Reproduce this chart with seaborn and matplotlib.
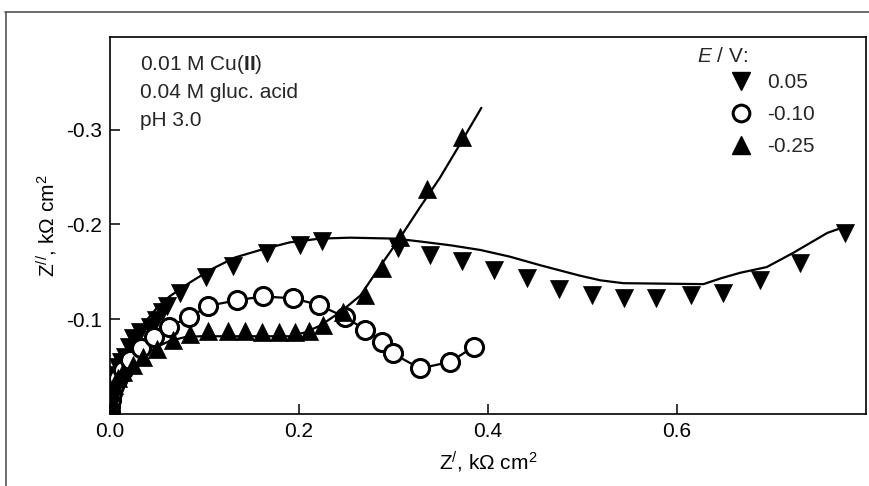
import matplotlib
matplotlib.use("Agg")
import matplotlib.pyplot as plt
from matplotlib.lines import Line2D
import seaborn as sns
import pandas as pd

# ---- data (kOhm cm2) ----
# E = 0.05 V : markers
x005 = [0.000, 0.000, 0.001, 0.001, 0.002, 0.005, 0.008, 0.012, 0.016, 0.020, 0.024, 0.032,
        0.042, 0.049, 0.055, 0.060, 0.074, 0.102, 0.130, 0.166, 0.201, 0.224, 0.305, 0.339,
        0.372, 0.406, 0.441, 0.475, 0.510, 0.544, 0.578, 0.615, 0.649, 0.688, 0.730, 0.778]
y005 = [-0.003, -0.011, -0.018, -0.025, -0.033, -0.041, -0.050, -0.055, -0.060, -0.071, -0.080, -0.087,
        -0.092, -0.099, -0.108, -0.114, -0.128, -0.145, -0.156, -0.170, -0.178, -0.182, -0.175, -0.168,
        -0.161, -0.152, -0.143, -0.132, -0.126, -0.122, -0.122, -0.126, -0.128, -0.141, -0.159, -0.191]
# E = 0.05 V : fitted curve
fx005 = [0.000, 0.001, 0.004, 0.011, 0.019, 0.032, 0.048, 0.063, 0.085, 0.106, 0.132, 0.159, 0.190,
         0.222, 0.254, 0.302, 0.328, 0.360, 0.392, 0.423, 0.455, 0.497, 0.519, 0.543, 0.628, 0.646,
         0.667, 0.695, 0.723, 0.759, 0.776]
fy005 = [0.000, -0.015, -0.036, -0.055, -0.073, -0.091, -0.110, -0.124, -0.139, -0.152, -0.165, -0.173, -0.181,
         -0.185, -0.186, -0.185, -0.182, -0.178, -0.173, -0.166, -0.157, -0.146, -0.141, -0.138, -0.137, -0.143,
         -0.149, -0.155, -0.170, -0.191, -0.197]

# E = -0.10 V : markers (line drawn through them)
x010 = [0.000, 0.000, 0.001, 0.002, 0.004, 0.008, 0.014, 0.021, 0.033, 0.047, 0.062, 0.084,
        0.104, 0.134, 0.162, 0.194, 0.221, 0.249, 0.270, 0.288, 0.299, 0.328, 0.360, 0.385]
y010 = [-0.002, -0.008, -0.015, -0.022, -0.030, -0.038, -0.046, -0.057, -0.070, -0.081, -0.092, -0.102,
        -0.114, -0.120, -0.124, -0.122, -0.115, -0.102, -0.089, -0.076, -0.064, -0.048, -0.055, -0.071]

# E = -0.25 V : markers
x025 = [0.000, 0.000, 0.001, 0.002, 0.004, 0.008, 0.014, 0.024, 0.035, 0.050, 0.067, 0.085, 0.104,
        0.125, 0.143, 0.161, 0.179, 0.196, 0.211, 0.225, 0.247, 0.270, 0.288, 0.307, 0.335, 0.372]
y025 = [-0.002, -0.008, -0.016, -0.023, -0.031, -0.038, -0.044, -0.052, -0.060, -0.069, -0.078, -0.084, -0.088,
        -0.088, -0.088, -0.087, -0.086, -0.086, -0.088, -0.094, -0.108, -0.126, -0.154, -0.187, -0.237, -0.292]
# E = -0.25 V : fitted curve
fx025 = [0.000, 0.002, 0.008, 0.019, 0.032, 0.048, 0.063, 0.079, 0.095, 0.127, 0.190, 0.206, 0.222,
         0.243, 0.265, 0.286, 0.307, 0.328, 0.349, 0.370, 0.393]
fy025 = [0.000, -0.017, -0.033, -0.049, -0.059, -0.070, -0.077, -0.081, -0.082, -0.082, -0.082, -0.086, -0.093,
         -0.107, -0.125, -0.156, -0.186, -0.218, -0.249, -0.284, -0.323]

labels = ["0.05", "-0.10", "-0.25"]
xticks = [0.0, 0.2, 0.4, 0.6]
yticks = [-0.1, -0.2, -0.3]
notes = ["0.01 M Cu($\\mathbf{II}$)", "0.04 M gluc. acid", "pH 3.0"]

# ---- style ----
sns.set_theme(style="white")
plt.rcParams["font.family"] = ["Liberation Sans", "DejaVu Sans"]
plt.rcParams["mathtext.fontset"] = "custom"
plt.rcParams["mathtext.rm"] = "Liberation Sans"
plt.rcParams["mathtext.it"] = "Liberation Sans:italic"
plt.rcParams["mathtext.bf"] = "Liberation Sans:bold"

W, H = 869, 486
fig = plt.figure(figsize=(W / 100, H / 100), dpi=100)
ax = fig.add_axes([110 / W, 1 - 414 / H, (866 - 110) / W, (414 - 36.7) / H])

FS = 15
MS = 13

def line(xs, ys):
    d = pd.DataFrame({"x": xs, "y": ys})
    sns.lineplot(data=d, x="x", y="y", sort=False, estimator=None, color="black",
                 lw=1.6, ax=ax, zorder=2)

def pts(xs, ys, marker, face, lw, z):
    d = pd.DataFrame({"x": xs, "y": ys})
    sns.scatterplot(data=d, x="x", y="y", marker=marker, s=MS ** 2, color=face,
                    edgecolor="black", linewidth=lw, ax=ax, zorder=z, legend=False)

line(fx005, fy005)
line(x010, y010)
line(fx025, fy025)
pts(x005, y005, "v", "black", 0.5, 3)
pts(x010, y010, "o", "white", 2.2, 4)
pts(x025, y025, "^", "black", 0.5, 5)

ax.set_xlim(0, 0.8)
ax.set_ylim(0, -0.398)
ax.set_xticks(xticks)
ax.set_xticklabels([f"{v:.1f}" for v in xticks])
ax.set_yticks(yticks)
ax.set_yticklabels([f"{v:.1f}" for v in yticks])
ax.tick_params(direction="in", length=7.5, width=1.1, labelsize=FS, colors="black",
               pad=6, top=False, right=False, bottom=True, left=True)
for s in ax.spines.values():
    s.set_color("black")
    s.set_linewidth(1.2)

ax.set_xlabel("Z$^{/}$, k\u03a9 cm$^{2}$", fontsize=FS, color="black", labelpad=6)
ax.set_ylabel("Z$^{//}$, k\u03a9 cm$^{2}$", fontsize=FS, color="black", labelpad=4)

# notes
for i, t in enumerate(notes):
    fig.text(140 / W, 1 - (65 + 27.5 * i) / H, t, fontsize=FS, va="center", ha="left")

# legend
handles = [
    Line2D([], [], ls="none", marker="v", ms=MS, mfc="black", mec="black"),
    Line2D([], [], ls="none", marker="o", ms=MS - 1, mfc="white", mec="black", mew=2.2),
    Line2D([], [], ls="none", marker="^", ms=MS, mfc="black", mec="black"),
]
ax.legend(handles, labels, loc="upper left", bbox_to_anchor=(731 / W, 1 - 73 / H),
          bbox_transform=fig.transFigure, frameon=False, fontsize=FS, borderpad=0,
          borderaxespad=0, handlelength=1.0, handletextpad=0.75, labelspacing=0.62)
fig.text(697 / W, 1 - 57 / H, "$\\mathit{E}$ / V:", fontsize=FS, va="center", ha="left")

# outer frame of the figure panel
fig.add_artist(Line2D([5 / W, 1], [1 - 12 / H, 1 - 12 / H], transform=fig.transFigure,
                      color="#555555", lw=1.2))
fig.add_artist(Line2D([6 / W, 6 / W], [0, 1 - 12 / H], transform=fig.transFigure,
                      color="#555555", lw=1.2))

fig.savefig("out.png", dpi=100)
